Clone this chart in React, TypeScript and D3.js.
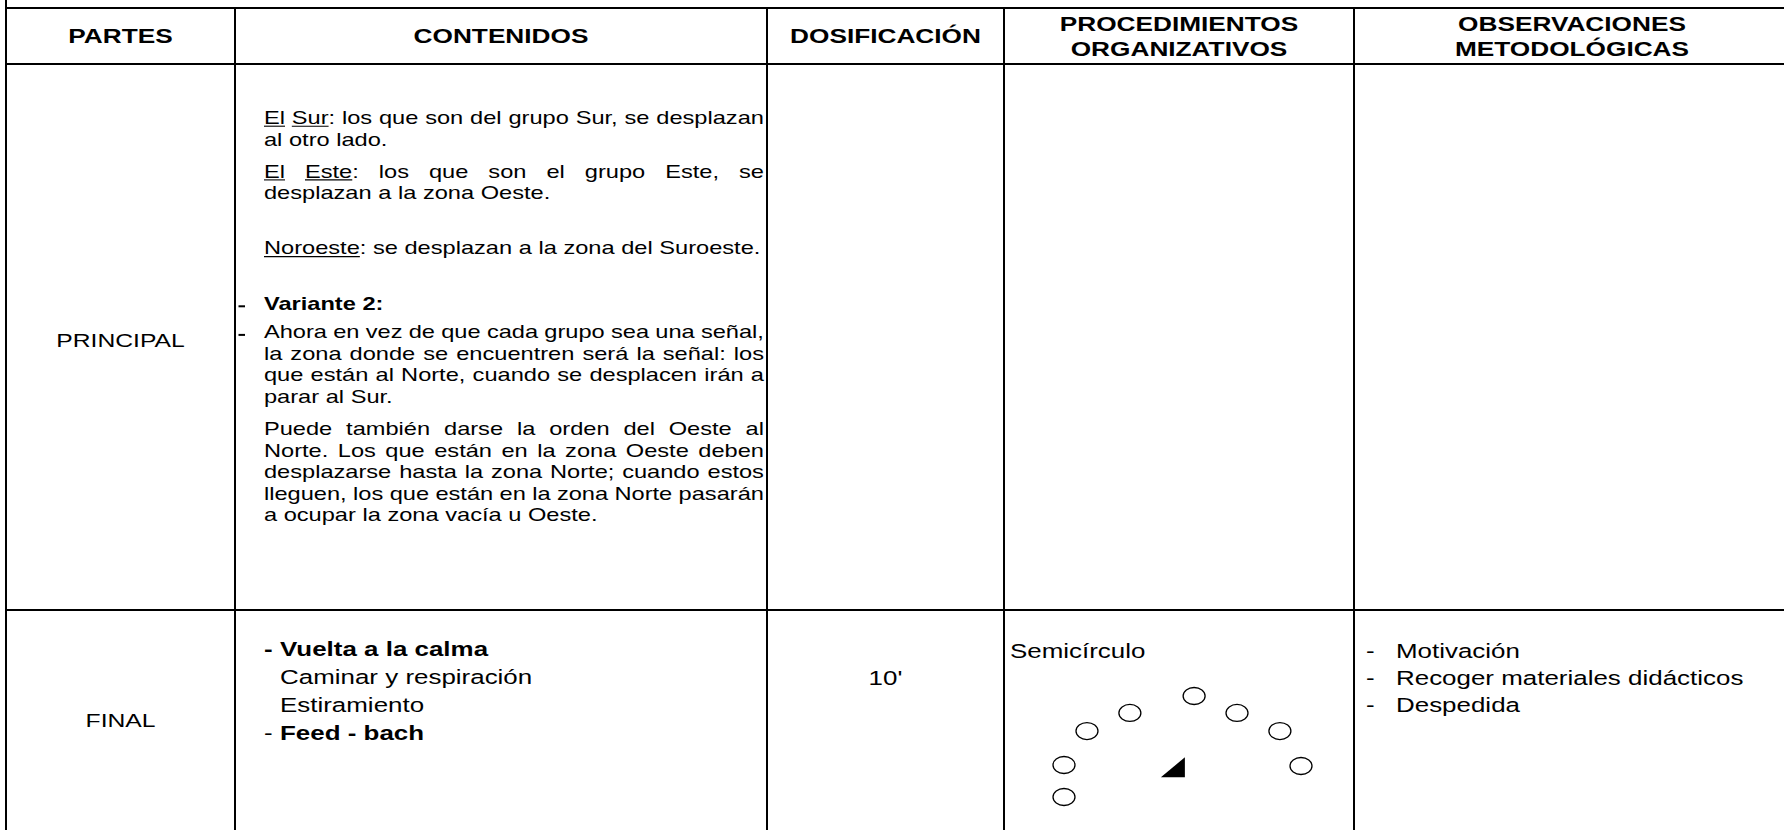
import React, { useMemo } from "react";
import * as d3 from "d3";

// ---------- DATA ----------
const headerCols: string[][] = [
  ["PARTES"],
  ["CONTENIDOS"],
  ["DOSIFICACIÓN"],
  ["PROCEDIMIENTOS", "ORGANIZATIVOS"],
  ["OBSERVACIONES", "METODOLÓGICAS"],
];

const partLabels = ["PRINCIPAL", "FINAL"];

// markup: _x_ = underlined, *x* = bold ; "- " at start = bullet dash
const principalParas: string[][] = [
  ["_El_ _Sur_: los que son del grupo Sur, se desplazan", "al otro lado."],
  ["_El_ _Este_: los que son el grupo Este, se", "desplazan a la zona Oeste."],
  [],
  ["_Noroeste_: se desplazan a la zona del Suroeste."],
  [],
  ["- *Variante* *2:*"],
  [
    "- Ahora en vez de que cada grupo sea una señal,",
    "la zona donde se encuentren será la señal: los",
    "que están al Norte, cuando se desplacen irán a",
    "parar al Sur.",
  ],
  [
    "Puede también darse la orden del Oeste al",
    "Norte. Los que están en la zona Oeste deben",
    "desplazarse hasta la zona Norte; cuando estos",
    "lleguen, los que están en la zona Norte pasarán",
    "a ocupar la zona vacía u Oeste.",
  ],
];

const finalContents = ["*-* *Vuelta* *a* *la* *calma*", "Caminar y respiración", "Estiramiento", "- *Feed* *-* *bach*"];
const finalDosis = "10'";
const finalProcTitle = "Semicírculo";
const finalObs = ["Motivación", "Recoger materiales didácticos", "Despedida"];

// semicircle formation (normalized diagram units)
const seatX = [0.549, 0.278, 0.73, 0.097, 0.911, 0.0, 1.0, 0.0];
const seatY = [0.0, 0.168, 0.168, 0.347, 0.347, 0.683, 0.693, 1.0];
const teacher = { x: 0.51, y: 0.805 };

// ---------- LAYOUT ----------
const W = 1784;
const H = 830;
const colEdges = [6, 235, 767, 1004, 1354, 1790];
const rowEdges = [8, 64, 610, 840];
const FONT = "'Liberation Sans', Arial, sans-serif";

type Run = { t: string; b?: boolean; u?: boolean };

function parseWord(w: string): Run[] {
  const runs: Run[] = [];
  const re = /(_[^_]+_|\*[^*]+\*|[^_*]+)/g;
  let m: RegExpExecArray | null;
  while ((m = re.exec(w))) {
    const s = m[0];
    if (s.startsWith("_")) runs.push({ t: s.slice(1, -1), u: true });
    else if (s.startsWith("*")) runs.push({ t: s.slice(1, -1), b: true });
    else runs.push({ t: s });
  }
  return runs;
}

export default function App() {
  const ctx = useMemo(() => document.createElement("canvas").getContext("2d")!, []);
  const measure = (t: string, size: number, bold?: boolean) => {
    ctx.font = `${bold ? "bold " : ""}${size}px 'Liberation Sans'`;
    return ctx.measureText(t).width;
  };

  const renderLine = (
    key: string,
    text: string,
    x: number,
    y: number,
    size: number,
    sx: number,
    justifyWidth?: number
  ) => {
    const words = text.split(" ").filter((w) => w.length).map(parseWord);
    const wWidths = words.map((rs) => d3.sum(rs, (r) => measure(r.t, size, r.b)));
    const space = measure(" ", size, false);
    let gap = space;
    if (justifyWidth && words.length > 1) {
      gap = (justifyWidth / sx - d3.sum(wWidths)) / (words.length - 1);
    }
    const els: React.ReactNode[] = [];
    let cx = 0;
    words.forEach((rs, wi) => {
      rs.forEach((r, ri) => {
        const rw = measure(r.t, size, r.b);
        els.push(
          <text
            key={`${wi}-${ri}`}
            x={cx}
            y={0}
            fontSize={size}
            fontWeight={r.b ? "bold" : "normal"}
            fontFamily={FONT}
            fill="#000"
          >
            {r.t}
          </text>
        );
        if (r.u) {
          els.push(
            <line key={`u${wi}-${ri}`} x1={cx} x2={cx + rw} y1={2.2} y2={2.2} stroke="#000" strokeWidth={1.1} />
          );
        }
        cx += rw;
      });
      cx += gap;
    });
    return (
      <g key={key} transform={`translate(${x},${y}) scale(${sx},1)`}>
        {els}
      </g>
    );
  };

  const centered = (key: string, text: string, cx: number, y: number, size: number, sx: number, bold?: boolean) => (
    <g key={key} transform={`translate(${cx},${y}) scale(${sx},1)`}>
      <text x={0} y={0} textAnchor="middle" fontSize={size} fontWeight={bold ? "bold" : "normal"} fontFamily={FONT} fill="#000">
        {text}
      </text>
    </g>
  );

  const colCenters = d3.pairs(colEdges).map(([a, b]) => (a + b) / 2);

  // ---------- header ----------
  const HS = 20.5;
  const HSX = 1.28;
  const headerEls = headerCols.map((lines, i) =>
    lines.length === 1
      ? centered(`h${i}`, lines[0], colCenters[i], 43, HS, HSX, true)
      : lines.map((l, j) => centered(`h${i}-${j}`, l, colCenters[i], 31 + j * 25, HS, HSX, true))
  );

  // ---------- principal contents ----------
  const BS = 17.5;
  const BSX = 1.35;
  const textLeft = 264;
  const textRight = 764;
  const step = 21.6;
  const principalEls: React.ReactNode[] = [];
  let y = 124;
  principalParas.forEach((para, pi) => {
    if (para.length === 0) {
      y += 23;
      return;
    }
    para.forEach((line, li) => {
      const isLast = li === para.length - 1;
      let t = line;
      if (t.startsWith("- ")) {
        principalEls.push(<rect key={`pd${pi}-${li}`} x={238.5} y={y - 4.2} width={6.5} height={2} fill="#000" />);
        t = t.slice(2);
      }
      principalEls.push(
        renderLine(`p${pi}-${li}`, t, textLeft, y, BS, BSX, isLast ? undefined : textRight - textLeft)
      );
      if (!isLast) y += step;
    });
    y += step + (para.length === 1 && para[0].includes("*") ? 7 : 10.5);
  });

  // ---------- final row ----------
  const FS = 19.5;
  const FSX = 1.33;
  const finalEls: React.ReactNode[] = [];
  finalContents.forEach((line, i) => {
    const yy = 656 + i * 28;
    const m = line.match(/^(\*-\*|-) (.*)$/);
    if (m) {
      finalEls.push(renderLine(`fcd${i}`, m[1], 264, yy, FS, FSX));
      finalEls.push(renderLine(`fc${i}`, m[2], 280, yy, FS, FSX));
    } else {
      finalEls.push(renderLine(`fc${i}`, line, 280, yy, FS, FSX));
    }
  });
  finalEls.push(centered("dos", finalDosis, colCenters[2], 685, FS, FSX));
  finalEls.push(renderLine("proc", finalProcTitle, 1010, 658, FS, FSX));
  finalObs.forEach((o, i) => {
    const yy = 658 + i * 27;
    finalEls.push(renderLine(`od${i}`, "-", 1366, yy, FS, FSX));
    finalEls.push(renderLine(`o${i}`, o, 1396, yy, FS, FSX));
  });

  // diagram
  const dx = d3.scaleLinear().domain([0, 1]).range([1064, 1301]);
  const dy = d3.scaleLinear().domain([0, 1]).range([696, 797]);
  const tx = dx(teacher.x);
  const ty = dy(teacher.y);
  const tri =
    d3.line()([
      [tx - 24, ty],
      [tx, ty],
      [tx, ty - 20],
    ]) + "Z";

  return (
    <svg width={W} height={H} style={{ position: "absolute", left: 0, top: 0, background: "#fff" }}>
      <rect x={0} y={0} width={W} height={H} fill="#fff" />
      <g stroke="#000" strokeWidth={2} shapeRendering="crispEdges">
        <line x1={colEdges[0]} x2={colEdges[0]} y1={0} y2={H} />
        {colEdges.slice(1, -1).map((x, i) => (
          <line key={`v${i}`} x1={x} x2={x} y1={rowEdges[0]} y2={H} />
        ))}
        {rowEdges.slice(0, -1).map((yv, i) => (
          <line key={`hr${i}`} x1={colEdges[0]} x2={W} y1={yv} y2={yv} />
        ))}
      </g>
      {headerEls}
      {centered("pl0", partLabels[0], colCenters[0], 347, 17.5, 1.41)}
      {centered("pl1", partLabels[1], colCenters[0], 727, 17.5, 1.41)}
      {principalEls}
      {finalEls}
      <g fill="none" stroke="#000" strokeWidth={1.3}>
        {seatX.map((sxv, i) => (
          <ellipse key={`s${i}`} cx={dx(sxv)} cy={dy(seatY[i])} rx={11} ry={8.5} />
        ))}
      </g>
      <path d={tri} fill="#000" />
    </svg>
  );
}
